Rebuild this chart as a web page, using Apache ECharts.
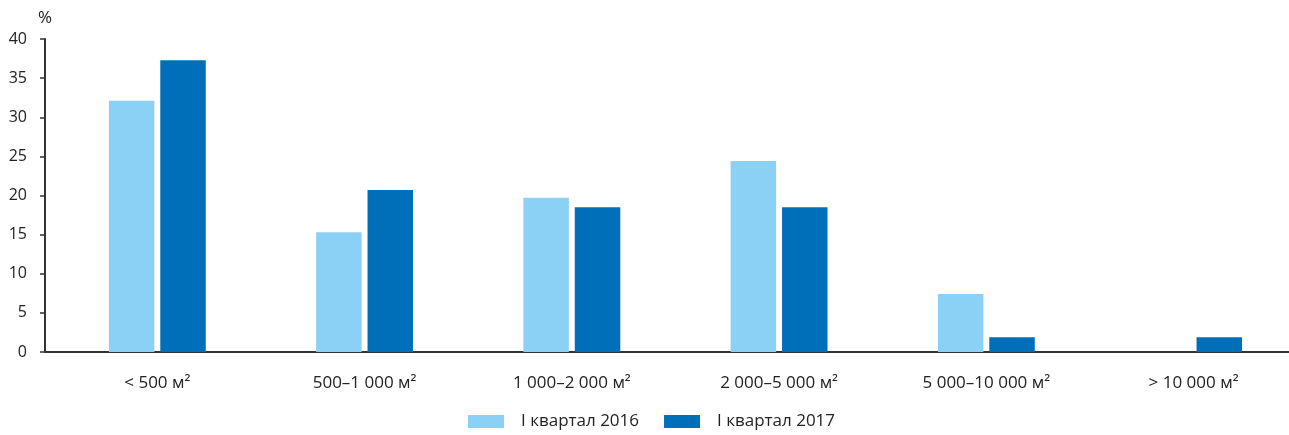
<!DOCTYPE html>
<html>
<head>
<meta charset="utf-8">
<script src="https://cdn.jsdelivr.net/npm/echarts@6/dist/echarts.min.js"></script>
<style>
html,body{margin:0;padding:0;background:#fff;}
#c{width:1289px;height:435px;}
</style>
</head>
<body>
<div id="c"></div>
<script>
const categories = ['< 500 м²', '500–1 000 м²', '1 000–2 000 м²', '2 000–5 000 м²', '5 000–10 000 м²', '> 10 000 м²'];
const series2016 = [32.1, 15.3, 19.7, 24.4, 7.4, 0];
const series2017 = [37.3, 20.7, 18.5, 18.5, 1.9, 1.9];
const seriesNames = ['I квартал 2016', 'I квартал 2017'];
const yTicks = [0, 5, 10, 15, 20, 25, 30, 35, 40];

const FONT = '"Open Sans", "Noto Sans", sans-serif';
const chart = echarts.init(document.getElementById('c'), null, {renderer: 'canvas'});
const option = {
  animation: false,
  textStyle: {fontFamily: FONT},
  grid: {left: 53.7, width: 1243.5, top: 39, bottom: 83, containLabel: false, outerBoundsMode: 'none'},
  legend: {
    bottom: 0, left: 463,
    itemWidth: 36, itemHeight: 13, itemGap: 25,
    textStyle: {fontSize: 17, color: '#222', fontFamily: FONT, padding: [0, 0, 0, 12]},
    icon: 'rect',
    data: seriesNames
  },
  xAxis: {
    type: 'category',
    data: categories,
    axisLine: {lineStyle: {color: '#333', width: 2}},
    axisTick: {show: false},
    axisLabel: {fontSize: 17, color: '#222', margin: 23, fontFamily: FONT, interval: 0}
  },
  yAxis: {
    type: 'value',
    min: yTicks[0], max: yTicks[yTicks.length - 1], interval: 5,
    offset: 8.7,
    name: '%',
    nameLocation: 'end',
    nameGap: 12,
    nameTextStyle: {fontSize: 17, color: '#222', fontFamily: FONT, align: 'center'},
    axisLine: {show: true, lineStyle: {color: '#333', width: 2}},
    axisTick: {show: true, length: 5, lineStyle: {color: '#333', width: 1.5}},
    axisLabel: {fontSize: 16, color: '#222', margin: 18, fontFamily: FONT},
    splitLine: {show: false}
  },
  series: [
    {name: seriesNames[0], type: 'bar', data: series2016, barWidth: 45.5, barGap: '13%',
     itemStyle: {color: '#8BD1F6'}},
    {name: seriesNames[1], type: 'bar', data: series2017, barWidth: 45.5,
     itemStyle: {color: '#006FB9'}}
  ]
};
chart.setOption(option);
// extend x-axis baseline to meet the offset y-axis
const grid = chart.getModel().getComponent('grid').coordinateSystem.getRect();
const y0 = chart.convertToPixel({yAxisIndex: 0}, 0);
chart.setOption({
  graphic: [{
    type: 'line', silent: true,
    shape: {x1: grid.x - 8.7, y1: y0, x2: grid.x + 1, y2: y0},
    style: {stroke: '#333', lineWidth: 2}
  }]
});
</script>
</body>
</html>
